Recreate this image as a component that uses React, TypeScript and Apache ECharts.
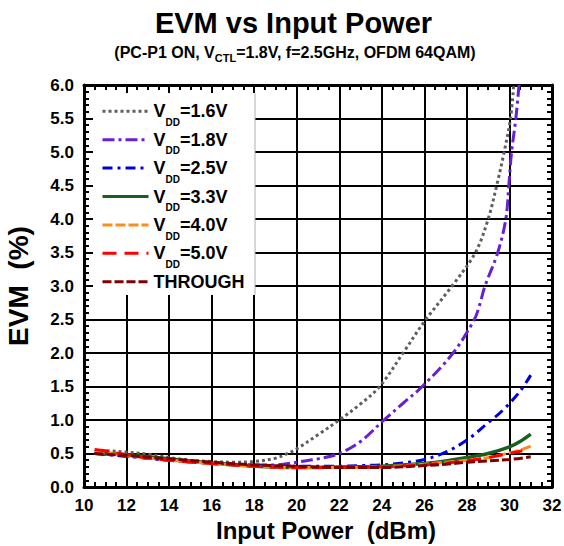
import React, { useEffect, useRef } from "react";
import * as echarts from "echarts";

const FONT = "'Liberation Sans', Arial, Helvetica, sans-serif";

// [input power dBm, EVM %]
const vdd16 = [[10.5,0.53],[11,0.54],[12,0.52],[13,0.49],[14,0.44],[15,0.40],[16,0.38],[17,0.37],[18,0.38],[19,0.43],[19.5,0.49],[20,0.57],[21,0.78],[22,1.0],[23,1.24],[23.9,1.5],[25,2.0],[26,2.47],[27.3,3.0],[28.4,3.5],[29,4.0],[29.4,4.5],[29.75,5.0],[30.05,5.5],[30.2,6.0]];
const vdd18 = [[10.5,0.5],[12,0.46],[14,0.40],[16,0.36],[18,0.33],[19,0.33],[20,0.37],[21,0.42],[22,0.5],[23,0.68],[24.1,1.0],[25,1.25],[25.9,1.5],[27.35,2.0],[28.35,2.5],[28.6,2.72],[28.85,3.0],[29.45,3.5],[29.83,4.0],[29.97,4.5],[30.1,5.0],[30.3,5.5],[30.45,6.0]];
const vdd25 = [[10.5,0.5],[12,0.46],[14,0.40],[16,0.35],[18,0.32],[20,0.31],[22,0.31],[23,0.32],[24,0.33],[25,0.36],[26,0.41],[27,0.52],[28,0.70],[29,0.96],[29.7,1.15],[30.5,1.43],[31,1.67]];
const vdd33 = [[10.5,0.52],[12,0.48],[14,0.42],[16,0.36],[18,0.31],[20,0.29],[22,0.30],[24,0.31],[26,0.35],[27,0.39],[28,0.44],[29,0.50],[30,0.60],[30.5,0.68],[31,0.79]];
const vdd40 = [[10.5,0.53],[12,0.47],[14,0.40],[16,0.35],[18,0.31],[20,0.29],[22,0.29],[24,0.30],[26,0.34],[27,0.37],[28,0.40],[29,0.44],[30,0.51],[30.5,0.55],[31,0.61]];
const vdd50 = [[10.5,0.56],[11,0.54],[12,0.48],[14,0.40],[16,0.35],[18,0.31],[20,0.29],[22,0.29],[24,0.30],[26,0.33],[28,0.39],[29,0.44],[30,0.50],[30.6,0.54]];
const through = [[10.5,0.5],[12,0.47],[14,0.42],[16,0.37],[18,0.33],[20,0.31],[22,0.29],[24,0.29],[26,0.32],[27,0.34],[28,0.37],[29,0.39],[30,0.41],[31,0.45]];

const seriesNames = ["VDD=1.6V", "VDD=1.8V", "VDD=2.5V", "VDD=3.3V", "VDD=4.0V", "VDD=5.0V", "THROUGH"];
const seriesData = [vdd16, vdd18, vdd25, vdd33, vdd40, vdd50, through];
const seriesColors = ["#5f5f5f", "#6a1fd3", "#0000dd", "#1b5e20", "#ff8c1a", "#ff0000", "#800000"];
const seriesDash: any[] = [[3, 3], [12, 4, 3, 4], [10, 5, 3, 5], "solid", [10, 3], [14, 8], [9, 3]];
const seriesWidth = [3, 3, 3, 3.5, 3, 3, 3];

export default function App() {
  const ref = useRef<HTMLDivElement>(null);
  useEffect(() => {
    if (!ref.current) return;
    const chart = echarts.init(ref.current, undefined, { renderer: "svg" });
    const axisLine = { show: true, onZero: false, lineStyle: { color: "#000", width: 3 } };
    const axisTick = { show: true, inside: true, length: 9, lineStyle: { color: "#000", width: 2 } };
    const option: any = {
      animation: false,
      backgroundColor: "#fff",
      grid: { left: 84, right: 12, top: 85, bottom: 59, containLabel: false, outerBoundsMode: "none" },
      graphic: {
        elements: [
          {
            type: "text", z: 5,
            style: { text: "EVM vs Input Power", x: 293.5, y: 23, align: "center", verticalAlign: "middle",
              fontSize: 29, fontWeight: "bold", fontFamily: FONT, fill: "#000" },
          },
          {
            type: "text", z: 5,
            style: {
              text: "{m|(PC-P1 ON, V}{s|CTL}{m|=1.8V, f=2.5GHz, OFDM 64QAM)}",
              x: 295, y: 44, align: "center", verticalAlign: "top",
              rich: {
                m: { fontSize: 16, fontWeight: "bold", fontFamily: FONT, fill: "#000", lineHeight: 17, verticalAlign: "top" },
                s: { fontSize: 11, fontWeight: "bold", fontFamily: FONT, fill: "#000", lineHeight: 11, padding: [8, 0, 0, 0], verticalAlign: "top" },
              },
            },
          },
          { type: "rect", z: 3, shape: { x: 93, y: 93, width: 162, height: 202 }, style: { fill: "#fff" } },
          { type: "line", z: 3, shape: { x1: 255, y1: 93, x2: 255, y2: 295 }, style: { stroke: "#b0b0b0", lineWidth: 1 } },
        ],
      },
      legend: {
        orient: "vertical", left: 101, top: 95, padding: 0,
        itemWidth: 46, itemHeight: 14, itemGap: -4.2, selectedMode: false,
        data: seriesNames,
        lineStyle: { width: 3 },
        itemStyle: { color: "rgba(0,0,0,0)", borderWidth: 0, opacity: 0 },
        formatter: (name: string) =>
          name === "THROUGH" ? "{m|THROUGH}{s| }" : "{m|V}{s|DD}{m|" + name.slice(3) + "}",
        textStyle: {
          color: "#000",
          rich: {
            m: { fontSize: 18, fontWeight: "bold", fontFamily: FONT, color: "#000", lineHeight: 18, verticalAlign: "middle" },
            s: { fontSize: 10, fontWeight: "bold", fontFamily: FONT, color: "#000", lineHeight: 10, padding: [22.6, 0, 0, 0], verticalAlign: "middle" },
          },
        },
      },
      xAxis: [
        {
          type: "value", min: 10, max: 32, interval: 2, position: "bottom",
          axisLine, axisTick,
          minorTick: { show: true, splitNumber: 4, length: 5, lineStyle: { color: "#000", width: 2 } },
          splitLine: { show: true, lineStyle: { color: "#000", width: 2 } },
          axisLabel: { fontSize: 17, fontWeight: "bold", fontFamily: FONT, color: "#000", margin: 10 },
          name: "Input Power  (dBm)", nameLocation: "middle", nameGap: 31,
          nameTextStyle: { fontSize: 24, fontWeight: "bold", fontFamily: FONT, color: "#000", padding: [0, 0, 0, 16] },
        },
        {
          type: "value", min: 10, max: 32, interval: 2, position: "top",
          axisLine, axisTick,
          minorTick: { show: true, splitNumber: 4, length: 5, lineStyle: { color: "#000", width: 2 } },
          splitLine: { show: false }, axisLabel: { show: false },
        },
      ],
      yAxis: [
        {
          type: "value", min: 0, max: 6, interval: 0.5, position: "left",
          axisLine, axisTick,
          minorTick: { show: true, splitNumber: 5, length: 5, lineStyle: { color: "#000", width: 2 } },
          splitLine: { show: true, lineStyle: { color: "#000", width: 2 } },
          axisLabel: { fontSize: 17, fontWeight: "bold", fontFamily: FONT, color: "#000", margin: 10,
            formatter: (v: number) => v.toFixed(1) },
          name: "EVM  (%)", nameLocation: "middle", nameGap: 52, nameRotate: 90,
          nameTextStyle: { fontSize: 28, fontWeight: "bold", fontFamily: FONT, color: "#000" },
        },
        {
          type: "value", min: 0, max: 6, interval: 0.5, position: "right",
          axisLine, axisTick,
          minorTick: { show: true, splitNumber: 5, length: 5, lineStyle: { color: "#000", width: 2 } },
          splitLine: { show: false }, axisLabel: { show: false },
        },
      ],
      series: seriesNames.map((name, i) => ({
        name, type: "line", data: seriesData[i], xAxisIndex: 0, yAxisIndex: 0,
        symbol: "none", showSymbol: false, smooth: 0.35,
        color: seriesColors[i],
        lineStyle: { color: seriesColors[i], width: seriesWidth[i], type: seriesDash[i], cap: "butt" },
      })),
    };
    chart.setOption(option);
    return () => chart.dispose();
  }, []);
  return <div ref={ref} style={{ position: "fixed", left: 0, top: 0, width: 564, height: 546 }} />;
}
